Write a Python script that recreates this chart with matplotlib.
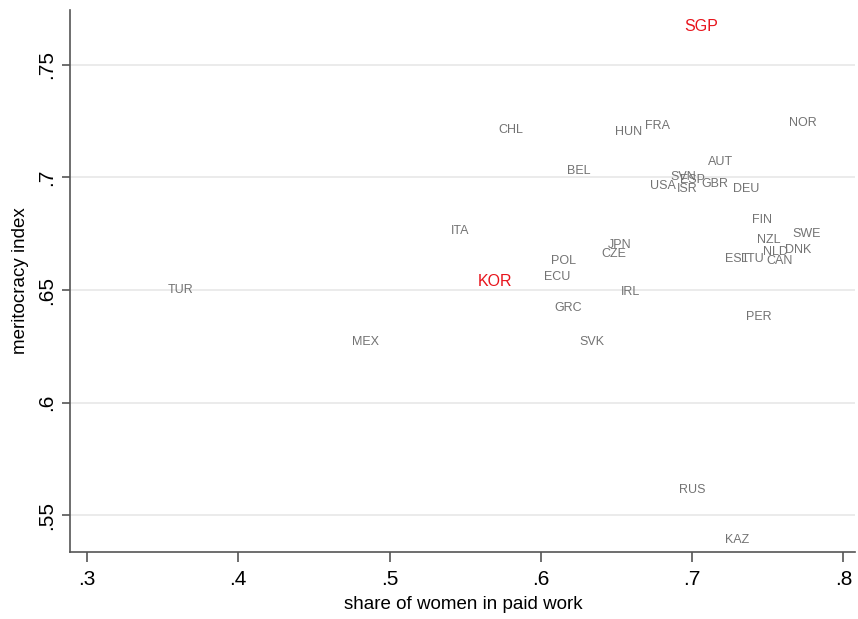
import matplotlib as mpl

mpl.use("Agg")

import matplotlib.pyplot as plt

plt.rcParams["font.family"] = ["Liberation Sans", "DejaVu Sans"]

# country codes and (share of women in paid work, meritocracy index)
countries = ["SGP", "NOR", "CHL", "HUN", "FRA", "AUT", "BEL", "SVN", "ESP",
             "USA", "ISR", "GBR", "DEU", "FIN", "SWE", "NZL", "NLD", "DNK",
             "EST", "LTU", "CAN", "ITA", "JPN", "CZE", "POL", "ECU", "KOR",
             "IRL", "TUR", "GRC", "PER", "MEX", "SVK", "RUS", "KAZ"]
women_share = [0.706, 0.773, 0.580, 0.658, 0.677, 0.719, 0.625, 0.694, 0.700,
               0.681, 0.697, 0.715, 0.736, 0.746, 0.776, 0.751, 0.755, 0.770,
               0.730, 0.740, 0.758, 0.547, 0.652, 0.648, 0.615, 0.611, 0.570,
               0.659, 0.362, 0.618, 0.744, 0.484, 0.634, 0.700, 0.730]
meritocracy = [0.767, 0.724, 0.721, 0.720, 0.723, 0.707, 0.703, 0.700, 0.699,
               0.696, 0.695, 0.697, 0.695, 0.681, 0.675, 0.672, 0.667, 0.668,
               0.664, 0.664, 0.663, 0.676, 0.670, 0.666, 0.663, 0.656, 0.654,
               0.649, 0.650, 0.642, 0.638, 0.627, 0.627, 0.561, 0.539]
highlight = {"SGP", "KOR"}

xticks = [0.3, 0.4, 0.5, 0.6, 0.7, 0.8]
yticks = [0.55, 0.6, 0.65, 0.7, 0.75]


def fmt(v):
    return f"{v:g}".lstrip("0")


fig = plt.figure(figsize=(8.58, 6.19), dpi=100)
ax = fig.add_axes([0.082, 0.108, 0.915, 0.876])

for c, x, y in zip(countries, women_share, meritocracy):
    if c in highlight:
        ax.text(x, y, c, ha="center", va="center", fontsize=11.5, color="#e8141c")
    else:
        ax.text(x, y, c, ha="center", va="center", fontsize=9, color="#737373")

ax.set_xlim(0.289, 0.808)
ax.set_ylim(0.5336, 0.7744)
ax.set_xticks(xticks)
ax.set_xticklabels([fmt(v) for v in xticks])
ax.set_yticks(yticks)
ax.set_yticklabels([fmt(v) for v in yticks], rotation=90, va="center")
ax.tick_params(axis="both", labelsize=15, color="#555555", width=1.2)
ax.tick_params(axis="x", length=7, pad=6)
ax.tick_params(axis="y", length=6, pad=4)
ax.grid(axis="y", color="#e8e8e8", linewidth=1.2)
ax.set_axisbelow(True)
for side in ("top", "right"):
    ax.spines[side].set_visible(False)
for side in ("left", "bottom"):
    ax.spines[side].set_color("#555555")
    ax.spines[side].set_linewidth(1.2)
ax.set_xlabel("share of women in paid work", fontsize=13.5, labelpad=5)
ax.set_ylabel("meritocracy index", fontsize=13.5, labelpad=6)

fig.savefig("out.png", dpi=100, facecolor="white")
